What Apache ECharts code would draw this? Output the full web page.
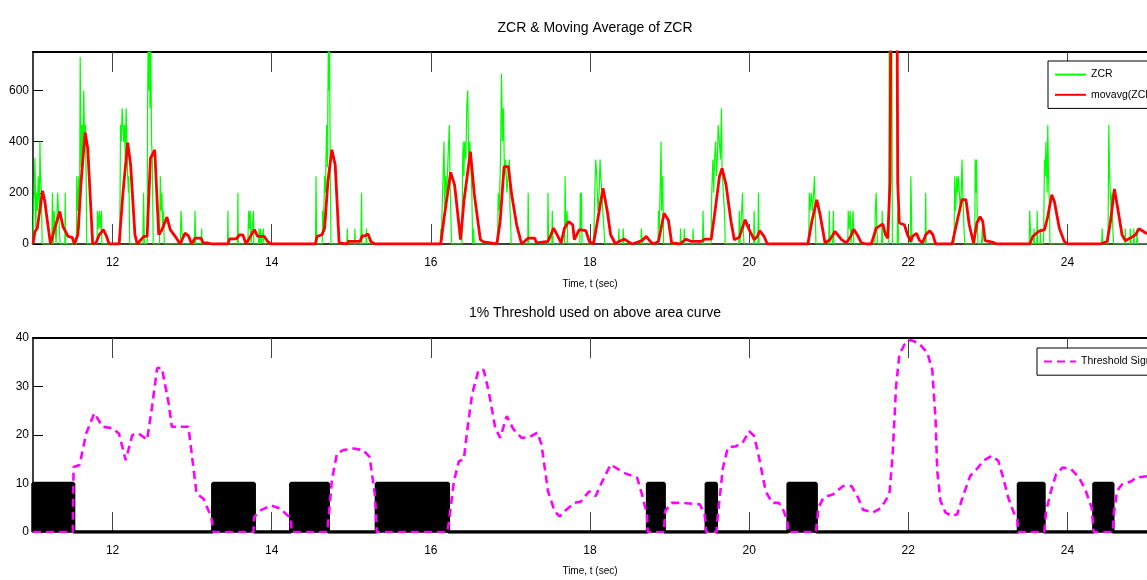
<!DOCTYPE html>
<html>
<head>
<meta charset="utf-8">
<script src="https://cdn.jsdelivr.net/npm/echarts@6/dist/echarts.min.js"></script>
<style>
html, body { margin: 0; padding: 0; background: #fff; }
#zcr-chart-box { width: 1147px; height: 580px; }
</style>
</head>
<body>
<div id="zcr-chart-box"></div>
<script>
// ticks
var xTicks = [12, 14, 16, 18, 20, 22, 24];
var zcrTicks = [0, 200, 400, 600];
var thrTicks = [0, 10, 20, 30, 40];

// ZCR per frame, [time (s), value]
var zcrPoints = [
    [11.00,0],[11.02,0],[11.025,335],[11.035,60],[11.045,200],[11.055,130],[11.065,265],[11.08,130],[11.087,400],[11.095,265],[11.105,200],[11.115,0],
    [11.235,0],[11.245,200],[11.255,0],[11.265,130],[11.285,130],[11.29,0],[11.31,200],[11.32,130],[11.335,130],[11.34,0],[11.40,0],[11.405,200],[11.41,0],
    [11.545,0],[11.55,265],[11.56,130],[11.575,265],[11.585,60],[11.593,730],[11.605,300],[11.615,465],[11.625,350],[11.638,600],[11.648,400],[11.66,465],[11.67,200],[11.675,0],
    [11.805,0],[11.81,130],[11.82,60],[11.835,130],[11.845,60],[11.86,130],[11.865,0],
    [12.09,0],[12.10,465],[12.11,400],[12.12,530],[12.13,465],[12.14,400],[12.15,465],[12.16,330],[12.17,530],[12.18,400],[12.19,265],[12.20,200],[12.205,265],[12.215,0],
    [12.38,0],[12.39,200],[12.40,0],[12.435,0],[12.44,530],[12.447,800],[12.455,600],[12.465,800],[12.47,530],[12.48,800],[12.49,400],[12.50,330],[12.51,0],
    [12.59,0],[12.60,265],[12.61,130],[12.62,200],[12.63,60],[12.64,130],[12.65,0],
    [12.85,0],[12.86,130],[12.87,60],[12.88,0],[13.03,0],[13.036,130],[13.045,0],[13.115,0],[13.12,60],[13.125,0],
    [13.445,0],[13.45,130],[13.455,0],[13.57,0],[13.575,200],[13.58,0],[13.70,0],[13.71,130],[13.72,60],[13.73,130],[13.74,0],[13.765,0],[13.77,130],[13.775,0],
    [13.835,0],[13.84,60],[13.85,0],[13.86,60],[13.87,0],[13.895,60],[13.90,0],
    [14.55,0],[14.557,265],[14.565,0],[14.635,0],[14.64,130],[14.65,60],[14.665,265],[14.675,200],[14.69,465],[14.70,300],[14.712,800],[14.72,600],[14.727,800],[14.735,300],[14.745,0],
    [14.945,0],[14.951,60],[14.955,0],[15.04,0],[15.046,60],[15.05,0],[15.12,0],[15.129,200],[15.135,0],[15.185,0],[15.19,60],[15.195,0],
    [16.12,0],[16.125,60],[16.13,0],[16.155,0],[16.165,400],[16.175,130],[16.185,265],[16.20,200],[16.215,330],[16.232,465],[16.24,265],[16.25,130],[16.26,0],
    [16.39,0],[16.40,330],[16.406,400],[16.415,265],[16.425,400],[16.44,330],[16.452,540],[16.464,600],[16.475,330],[16.49,400],[16.506,400],[16.515,200],[16.525,0],[16.535,60],[16.545,0],
    [16.84,0],[16.846,200],[16.86,130],[16.875,330],[16.888,665],[16.90,400],[16.912,530],[16.925,265],[16.94,330],[16.955,200],[16.97,265],[16.987,330],[16.995,130],[17.005,60],[17.01,0],
    [17.218,0],[17.223,200],[17.23,0],[17.467,0],[17.472,200],[17.48,0],[17.52,0],[17.526,130],[17.535,0],[17.68,0],[17.687,265],[17.695,60],[17.712,130],[17.72,0],
    [17.872,0],[17.878,200],[17.885,60],[17.892,200],[17.90,0],
    [18.045,0],[18.05,60],[18.06,200],[18.072,330],[18.085,265],[18.10,130],[18.115,200],[18.126,330],[18.135,265],[18.15,200],[18.16,130],[18.175,60],[18.185,0],
    [18.358,0],[18.363,60],[18.37,0],[18.412,0],[18.417,60],[18.425,0],[18.64,0],[18.645,60],[18.655,60],[18.66,0],
    [18.855,0],[18.86,130],[18.87,60],[18.885,265],[18.893,400],[18.90,130],[18.914,265],[18.925,0],
    [19.133,0],[19.138,60],[19.145,0],[19.18,0],[19.185,60],[19.19,0],[19.29,0],[19.296,60],[19.30,0],
    [19.415,0],[19.42,130],[19.43,0],[19.52,0],[19.53,200],[19.544,330],[19.555,200],[19.565,330],[19.578,400],[19.59,265],[19.60,330],[19.611,465],[19.625,400],[19.64,330],[19.652,530],[19.66,300],[19.675,200],[19.69,130],[19.70,0],
    [19.87,0],[19.876,130],[19.885,0],[19.91,0],[19.917,200],[19.925,60],[19.935,0],[20.057,0],[20.063,130],[20.07,0],[20.11,0],[20.117,200],[20.125,0],
    [20.75,0],[20.755,200],[20.765,130],[20.78,200],[20.795,130],[20.81,200],[20.821,265],[20.83,130],[20.84,0],[21.0,0],[21.008,130],[21.015,0],[21.05,0],[21.058,130],[21.065,0],
    [21.24,0],[21.245,130],[21.255,60],[21.27,130],[21.28,0],[21.30,0],[21.307,130],[21.315,0],
    [21.58,0],[21.585,130],[21.597,200],[21.605,60],[21.615,0],[21.665,0],[21.672,130],[21.68,0],
    [21.755,0],[21.763,1200],[21.775,300],[21.79,1200],[21.80,0],[21.86,0],[21.867,130],[21.875,130],[21.88,0],
    [22.025,0],[22.032,265],[22.04,130],[22.045,0],[22.212,0],[22.219,200],[22.225,0],
    [22.575,0],[22.584,265],[22.595,130],[22.61,265],[22.62,200],[22.63,265],[22.642,265],[22.655,130],[22.665,200],[22.675,330],[22.685,200],[22.70,60],[22.71,0],
    [22.835,0],[22.841,330],[22.85,200],[22.858,330],[22.865,130],[22.875,0],[22.92,0],[22.93,60],[22.935,0],
    [23.52,0],[23.525,130],[23.535,60],[23.545,0],[23.575,0],[23.58,60],[23.585,0],[23.615,0],[23.62,130],[23.625,0],[23.655,0],[23.66,60],[23.665,0],
    [23.70,0],[23.712,330],[23.72,265],[23.73,400],[23.745,200],[23.753,465],[23.762,265],[23.775,130],[23.78,0],
    [24.43,0],[24.437,60],[24.445,0],[24.51,0],[24.52,465],[24.53,265],[24.541,265],[24.55,130],[24.56,200],[24.57,60],[24.58,0],
    [24.72,0],[24.727,60],[24.735,0],[24.785,0],[24.79,60],[24.80,0],[24.83,0],[24.835,60],[24.84,0],[24.87,0],[24.875,60],[24.88,0],[25.0,0]
];

// moving average of ZCR
var movavgPoints = [
    [11.0,0],[11.025,49],[11.054,62],[11.12,208],[11.149,166],[11.17,114],[11.22,0],[11.274,62],[11.336,127],[11.377,68],[11.398,62],[11.44,30],[11.493,26],[11.52,0],
    [11.564,36],[11.605,244],[11.655,436],[11.688,374],[11.75,0],[11.79,4],[11.833,36],[11.883,56],[11.916,36],[11.958,0],[12.082,0],
    [12.132,205],[12.19,396],[12.227,309],[12.281,36],[12.31,0],[12.393,30],[12.434,30],[12.476,335],[12.53,368],[12.58,36],[12.621,56],[12.683,105],[12.725,56],[12.787,30],[12.849,0],
    [12.911,43],[12.953,32],[12.994,0],[13.036,23],[13.11,23],[13.14,4],[13.2,4],[13.243,0],[13.45,0],[13.471,20],[13.554,20],[13.595,36],[13.637,36],[13.678,0],
    [13.732,30],[13.782,56],[13.823,30],[13.865,30],[13.906,30],[13.948,10],[13.99,0],[14.549,0],[14.57,30],[14.632,36],[14.665,62],[14.706,244],[14.756,368],[14.798,309],[14.847,4],[14.943,0],
    [14.963,10],[15.109,10],[15.138,32],[15.171,32],[15.212,39],[15.245,10],[15.295,0],[16.124,0],[16.166,101],[16.249,280],[16.298,231],[16.373,17],[16.415,166],[16.497,361],[16.547,192],[16.622,17],[16.663,8],[16.829,0],
    [16.871,88],[16.92,302],[16.974,302],[17.016,192],[17.078,75],[17.14,0],[17.223,23],[17.306,23],[17.327,4],[17.472,10],[17.501,30],[17.542,62],[17.575,43],[17.637,4],[17.679,62],[17.733,88],[17.783,75],[17.803,17],
    [17.865,56],[17.948,52],[17.99,10],[18.043,0],[18.093,88],[18.164,218],[18.218,127],[18.259,36],[18.321,0],[18.363,10],[18.433,19],[18.475,10],[18.529,0],[18.653,13],[18.707,30],[18.757,10],[18.798,0],
    [18.86,10],[18.931,120],[18.985,94],[19.026,4],[19.13,0],[19.204,19],[19.275,10],[19.399,10],[19.441,19],[19.524,19],[19.565,114],[19.627,264],[19.66,296],[19.71,231],[19.772,88],[19.814,17],
    [19.876,26],[19.95,95],[20.0,56],[20.063,17],[20.104,30],[20.133,52],[20.187,30],[20.228,0],[20.738,0],[20.788,88],[20.85,173],[20.892,114],[20.954,4],[21.016,17],[21.078,49],[21.161,17],[21.223,4],
    [21.277,30],[21.315,58],[21.369,30],[21.41,4],[21.473,0],[21.535,0],[21.597,62],[21.68,78],[21.713,36],[21.742,23],[21.771,244],[21.788,1400],[21.854,1400],[21.867,244],[21.887,82],[21.95,75],[21.991,36],
    [22.032,10],[22.053,30],[22.103,42],[22.136,17],[22.178,4],[22.219,36],[22.269,52],[22.31,36],[22.343,0],[22.551,0],[22.613,88],[22.675,173],[22.725,173],[22.766,75],[22.82,4],[22.862,82],[22.903,107],[22.936,88],[22.965,13],[23.069,6],[23.11,0],
    [23.525,0],[23.566,30],[23.637,49],[23.712,56],[23.753,107],[23.803,192],[23.836,166],[23.898,62],[23.96,10],[24.002,0],[24.416,0],[24.499,10],[24.541,88],[24.59,215],[24.632,140],[24.686,36],[24.727,13],[24.79,23],[24.856,36],[24.9,60],[25.0,40]
];

// area curve with 1% threshold
var thresholdPoints = [
    [11.0,0],[11.5,0],[11.51,13.4],[11.585,13.8],[11.668,20.3],[11.77,24.5],[11.875,21.7],[12.0,21.4],[12.08,20.3],[12.165,14.8],[12.248,20.0],[12.33,20.3],[12.434,19.0],[12.497,25.9],
    [12.56,33.8],[12.62,33.8],[12.704,26.6],[12.745,21.7],[12.85,21.7],[12.953,21.7],[12.994,16.2],[13.056,7.9],[13.14,6.9],[13.24,3.1],[13.27,0],[13.77,0],[13.78,3.1],[13.865,4.5],[13.99,5.5],
    [14.11,4.8],[14.2,3.4],[14.24,3.1],[14.25,0],[14.70,0],[14.71,2],[14.756,10.7],[14.82,16.2],[14.9,16.9],[15.026,17.2],[15.15,16.9],[15.23,15.5],[15.295,7.9],[15.316,2.4],[15.32,0],
    [16.21,0],[16.228,2.2],[16.29,10.5],[16.353,14.6],[16.415,15],[16.456,20.8],[16.518,28.4],[16.6,33.4],[16.664,33.4],[16.726,29.1],[16.809,21.5],[16.871,19.4],[16.954,23.9],[17.037,21.2],
    [17.14,19.4],[17.244,19.6],[17.34,20.5],[17.39,18.1],[17.472,8.4],[17.555,4.3],[17.617,3.2],[17.68,4.3],[17.804,6],[17.887,6.3],[17.99,8.4],[18.073,7.4],[18.135,9.8],[18.26,13.9],
    [18.426,12.2],[18.592,11.2],[18.654,7.7],[18.716,3.6],[18.725,0],[18.93,0],[18.944,4.3],[19.027,6],[19.172,6],[19.38,5.7],[19.441,3.6],[19.46,0],[19.59,0],[19.607,3.6],[19.67,13.2],
    [19.732,17.4],[19.835,17.7],[19.918,18.4],[20.0,20.8],[20.063,19.8],[20.125,15.3],[20.208,8.4],[20.29,6],[20.374,6],[20.436,4.3],[20.48,2],[20.49,0],[20.84,0],[20.871,5],[20.934,7.1],
    [21.058,7.8],[21.182,9.5],[21.286,9.5],[21.369,7.1],[21.431,4.6],[21.556,4],[21.659,5],[21.763,7.8],[21.804,16.1],[21.846,29.9],[21.887,36.5],[21.95,38.6],[22.032,39.6],[22.136,38.9],
    [22.24,36.9],[22.302,33.4],[22.343,23],[22.364,12.6],[22.405,6.4],[22.468,4],[22.55,3.3],[22.613,3.6],[22.696,7.8],[22.779,11.6],[22.862,13],[22.944,14.7],[23.048,15.7],[23.131,14.7],
    [23.193,11.2],[23.256,7.1],[23.318,4.3],[23.37,2.5],[23.38,0],[23.71,0],[23.732,4.3],[23.794,8.5],[23.857,11.9],[23.94,13.3],[24.043,13],[24.147,11.2],[24.23,8.5],[24.304,5],[24.33,0],
    [24.57,0],[24.582,3.6],[24.624,8.5],[24.686,9.8],[24.81,10.5],[24.856,11.2],[25.0,11.5]
];

// threshold signal (10 = on)
var signalStarts = [11.0, 13.26, 14.24, 15.316, 18.724, 19.462, 20.49, 23.385, 24.333];
var signalEnds = [11.51, 13.78, 14.71, 16.22, 18.932, 19.587, 20.842, 23.705, 24.57];
var signalLevel = 10;

var signalPoints = [];
for (var i = 0; i < signalStarts.length; i++) {
    signalPoints.push([signalStarts[i], 0], [signalStarts[i], signalLevel], [signalEnds[i], signalLevel], [signalEnds[i], 0]);
}
signalPoints.push([25, 0]);

var fontFam = "'Liberation Sans', Arial, sans-serif";

function xAxisFor(grid, pos, name, gap) {
    return {
        type: 'value',
        gridIndex: grid,
        position: pos,
        min: 11,
        max: 25,
        name: name,
        nameLocation: 'middle',
        nameGap: gap,
        nameTextStyle: { color: '#000', fontSize: 10, fontFamily: fontFam },
        axisLine: { show: true, onZero: false, lineStyle: { color: '#000', width: pos === 'top' ? 2 : 1.5 } },
        axisTick: { show: true, inside: true, length: 20, customValues: xTicks, lineStyle: { color: '#444', width: 1 } },
        axisLabel: { show: pos === 'bottom', customValues: xTicks, color: '#000', fontSize: 12, margin: 13, fontFamily: fontFam },
        splitLine: { show: false }
    };
}

function yAxisFor(grid, max, ticks) {
    return {
        type: 'value',
        gridIndex: grid,
        min: 0,
        max: max,
        axisLine: { show: true, onZero: false, lineStyle: { color: '#000', width: 1.5 } },
        axisTick: { show: true, inside: true, length: 10, customValues: ticks, lineStyle: { color: '#000' } },
        axisLabel: { customValues: ticks, color: '#000', fontSize: 12, margin: 4, fontFamily: fontFam },
        splitLine: { show: false }
    };
}

var option = {
    animation: false,
    backgroundColor: '#fff',
    title: [{
        text: 'ZCR & Moving Average of ZCR',
        left: 595,
        top: 21,
        textAlign: 'center',
        padding: 0,
        textStyle: { color: '#000', fontSize: 14, fontWeight: 'normal', fontFamily: fontFam }
    }, {
        text: '1% Threshold used on above area curve',
        left: 595,
        top: 306,
        textAlign: 'center',
        padding: 0,
        textStyle: { color: '#000', fontSize: 14, fontWeight: 'normal', fontFamily: fontFam }
    }],
    legend: [{
        data: ['ZCR', 'movavg(ZCR)'],
        orient: 'vertical',
        left: 1048,
        top: 61,
        padding: [8, 8, 8, 6],
        itemWidth: 31,
        itemHeight: 14,
        itemGap: 9,
        borderColor: '#000',
        borderWidth: 1,
        backgroundColor: '#fff',
        borderRadius: 0,
        itemStyle: { opacity: 0 },
        textStyle: { color: '#000', fontSize: 10.5, fontFamily: fontFam }
    }, {
        data: ['Threshold Signal'],
        orient: 'vertical',
        left: 1037,
        top: 348,
        padding: [8, 8, 8, 6],
        itemWidth: 32,
        itemHeight: 14,
        borderColor: '#000',
        borderWidth: 1,
        backgroundColor: '#fff',
        borderRadius: 0,
        itemStyle: { opacity: 0 },
        textStyle: { color: '#000', fontSize: 10.5, fontFamily: fontFam }
    }],
    grid: [
        { left: 33, top: 52, width: 1125.6, height: 192 },
        { left: 33, top: 338, width: 1125.6, height: 194 }
    ],
    xAxis: [
        xAxisFor(0, 'bottom', 'Time, t (sec)', 35),
        xAxisFor(0, 'top', '', 0),
        xAxisFor(1, 'bottom', 'Time, t (sec)', 34),
        xAxisFor(1, 'top', '', 0)
    ],
    yAxis: [
        yAxisFor(0, 750, zcrTicks),
        yAxisFor(1, 40, thrTicks)
    ],
    series: [{
        name: 'ZCR',
        type: 'line',
        xAxisIndex: 0,
        yAxisIndex: 0,
        data: zcrPoints,
        symbol: 'none',
        clip: true,
        lineStyle: { color: '#00ff00', width: 1.2 },
        itemStyle: { color: '#00ff00' }
    }, {
        name: 'movavg(ZCR)',
        type: 'line',
        xAxisIndex: 0,
        yAxisIndex: 0,
        data: movavgPoints,
        symbol: 'none',
        clip: true,
        lineStyle: { color: '#ff0000', width: 2.8 },
        itemStyle: { color: '#ff0000' }
    }, {
        name: 'signal',
        type: 'line',
        xAxisIndex: 2,
        yAxisIndex: 1,
        data: signalPoints,
        symbol: 'none',
        clip: true,
        lineStyle: { color: '#000', width: 3.5 },
        itemStyle: { color: '#000' },
        areaStyle: { color: '#000', opacity: 1 }
    }, {
        name: 'Threshold Signal',
        type: 'line',
        xAxisIndex: 2,
        yAxisIndex: 1,
        data: thresholdPoints,
        symbol: 'none',
        clip: true,
        lineStyle: { color: '#ff00ff', width: 2.6, type: [8, 5] },
        itemStyle: { color: '#ff00ff' }
    }]
};

var zcrChart = echarts.init(document.getElementById('zcr-chart-box'));
zcrChart.setOption(option);
</script>
</body>
</html>
